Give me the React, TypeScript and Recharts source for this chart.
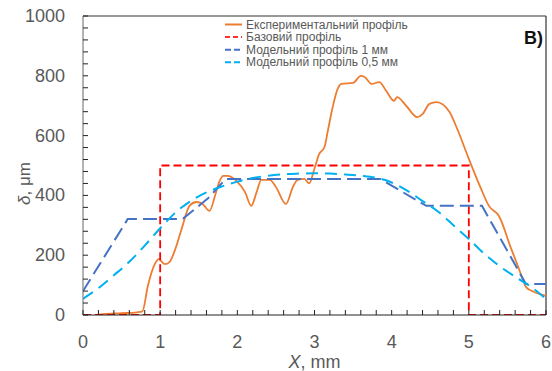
import React from 'react';
import {
  LineChart,
  Line,
  XAxis,
  YAxis,
  Legend,
  ReferenceLine,
} from 'recharts';

// Experimental profile, δ (µm) against X (mm)
const expX = [0.18, 0.26, 0.5, 0.7, 0.77, 0.84, 0.93, 0.98, 1.06, 1.12, 1.21, 1.29, 1.38, 1.47, 1.55, 1.64, 1.71, 1.77, 1.82, 1.87, 1.99, 2.1, 2.18, 2.25, 2.31, 2.42, 2.5, 2.63, 2.72, 2.78, 2.87, 2.93, 3.0, 3.06, 3.13, 3.17, 3.23, 3.3, 3.35, 3.5, 3.6, 3.65, 3.74, 3.84, 3.93, 4.03, 4.07, 4.19, 4.33, 4.4, 4.49, 4.58, 4.75, 4.85, 5.0, 5.16, 5.26, 5.39, 5.55, 5.65, 5.74, 5.82, 6.0];
const expY = [0, 3, 6, 9, 12, 97, 170, 187, 170, 177, 231, 298, 365, 378, 371, 348, 398, 448, 465, 465, 448, 411, 365, 411, 452, 452, 428, 371, 428, 452, 455, 440, 490, 538, 562, 612, 689, 756, 773, 776, 800, 796, 773, 779, 749, 716, 729, 699, 662, 672, 706, 712, 679, 622, 522, 421, 365, 331, 221, 154, 94, 80, 64];

// Base (rectangular) profile
const baseX = [0, 1, 1, 5, 5, 6];
const baseY = [0, 0, 500, 500, 0, 0];

// Model profile, 1 mm
const m1X = [0, 0.58, 1.29, 1.62, 1.85, 3.85, 4.45, 5.17, 5.74, 6];
const m1Y = [80, 321, 321, 390, 455, 455, 365, 365, 104, 104];

// Model profile, 0.5 mm
const m05X = [0, 0.2, 0.4, 0.6, 0.8, 1.0, 1.2, 1.4, 1.6, 1.8, 2.0, 2.2, 2.4, 2.6, 2.8, 3.0, 3.2, 3.4, 3.6, 3.8, 4.0, 4.2, 4.4, 4.6, 4.8, 5.0, 5.2, 5.4, 5.6, 5.8, 6.0];
const m05Y = [54, 90, 133, 178, 232, 290, 343, 382, 410, 430, 446, 458, 466, 471, 473, 474, 473, 470, 466, 459, 443, 416, 381, 346, 300, 254, 205, 163, 128, 95, 54];

const seriesNames = [
  'Експериментальний профіль',
  'Базовий профіль',
  'Модельний профіль 1 мм',
  'Модельний профіль 0,5 мм',
];

const xMajor = [0, 1, 2, 3, 4, 5, 6];
const yMajor = [0, 200, 400, 600, 800, 1000];

// minor ticks every 0.2 mm and every 40 µm
const xTicks = Array.from({ length: 31 }, (_, i) => Math.round(i * 2) / 10);
const yTicks = Array.from({ length: 26 }, (_, i) => i * 40);

const toPoints = (xs: number[], ys: number[]) => xs.map((x, i) => ({ x, y: ys[i] }));

const expData = toPoints(expX, expY);
const baseData = toPoints(baseX, baseY);
const m1Data = toPoints(m1X, m1Y);
const m05Data = toPoints(m05X, m05Y);

const FONT = '"Liberation Sans", Arial, sans-serif';
const GREY = '#595959';

const seriesStyle = [
  { stroke: '#ED7D31', dash: undefined },
  { stroke: '#FF3030', dash: '5 3' },
  { stroke: '#4472C4', dash: '6 3' },
  { stroke: '#00B0F0', dash: '6 3' },
];

const XTick = (props: any) => {
  const { x, y, payload } = props;
  const major = xMajor.includes(payload.value);
  return (
    <g>
      <line x1={x} x2={x} y1={y} y2={y - 5} stroke="#222" strokeWidth={1} />
      {major && (
        <text x={x} y={y + 33} textAnchor="middle" fill={GREY} fontSize={18} fontFamily={FONT}>
          {payload.value}
        </text>
      )}
    </g>
  );
};

const YTick = (props: any) => {
  const { x, y, payload } = props;
  const major = yMajor.includes(payload.value);
  return (
    <g>
      <line x1={x} x2={x + 5} y1={y} y2={y} stroke="#222" strokeWidth={1} />
      {major && (
        <text x={x - 18} y={y + 6} textAnchor="end" fill={GREY} fontSize={18} fontFamily={FONT}>
          {payload.value}
        </text>
      )}
    </g>
  );
};

const XLabel = (props: any) => {
  const { viewBox } = props;
  const cx = viewBox.x + viewBox.width / 2;
  return (
    <text x={cx} y={viewBox.y + 53} textAnchor="middle" fill={GREY} fontSize={18} fontFamily={FONT}>
      <tspan fontStyle="italic">X</tspan>, mm
    </text>
  );
};

const YLabel = (props: any) => {
  const { viewBox } = props;
  const cy = viewBox.y + viewBox.height / 2 + 18;
  const cx = 30;
  return (
    <text x={cx} y={cy} transform={`rotate(-90 ${cx} ${cy})`} textAnchor="middle" fill={GREY} fontSize={17} fontFamily={FONT}>
      <tspan fontStyle="italic">δ</tspan>, μm
    </text>
  );
};

// legend rows in series order, drawn by hand
const LegendBox = () => (
  <svg width={250} height={56}>
    {seriesNames.map((name, i) => {
      const yy = 6.5 + i * 12.6;
      return (
        <g key={name}>
          <line
            x1={0}
            x2={17}
            y1={yy}
            y2={yy}
            stroke={seriesStyle[i].stroke}
            strokeWidth={2}
            strokeDasharray={seriesStyle[i].dash}
          />
          <text x={21} y={yy + 4} fill={GREY} fontSize={12} fontFamily={FONT}>
            {name}
          </text>
        </g>
      );
    })}
  </svg>
);

export default function App() {
  return (
    <div style={{ position: 'absolute', left: 0, top: 0, width: 552, height: 371, background: '#fff' }}>
      <LineChart width={552} height={371} margin={{ top: 16, right: 6, bottom: 26, left: 23 }}>
        <XAxis
          dataKey="x"
          type="number"
          domain={[0, 6]}
          ticks={xTicks}
          interval={0}
          tickSize={0}
          tickMargin={0}
          tickLine={false}
          tick={<XTick />}
          axisLine={{ stroke: '#222', strokeWidth: 1 }}
          height={30}
          allowDataOverflow
          label={<XLabel />}
        />
        <YAxis
          dataKey="y"
          type="number"
          domain={[0, 1000]}
          ticks={yTicks}
          interval={0}
          tickSize={0}
          tickMargin={0}
          tickLine={false}
          tick={<YTick />}
          axisLine={{ stroke: '#7f7f7f', strokeWidth: 1.2 }}
          width={60}
          allowDataOverflow
          label={<YLabel />}
        />
        <ReferenceLine y={1000} stroke="#333" strokeWidth={1.2} />
        <ReferenceLine x={6} stroke="#333" strokeWidth={1.2} />
        <Legend
          layout="vertical"
          align="center"
          verticalAlign="middle"
          content={<LegendBox />}
          wrapperStyle={{ left: 225, top: 18, width: 250, height: 56 }}
        />
        <Line
          data={expData}
          dataKey="y"
          name={seriesNames[0]}
          type="monotone"
          stroke={seriesStyle[0].stroke}
          strokeWidth={1.8}
          dot={false}
          isAnimationActive={false}
        />
        <Line
          data={baseData}
          dataKey="y"
          name={seriesNames[1]}
          type="linear"
          stroke="#FF0000"
          strokeWidth={1.8}
          strokeDasharray="8 4"
          dot={false}
          isAnimationActive={false}
        />
        <Line
          data={m1Data}
          dataKey="y"
          name={seriesNames[2]}
          type="linear"
          stroke={seriesStyle[2].stroke}
          strokeWidth={2}
          strokeDasharray="14 6"
          dot={false}
          isAnimationActive={false}
        />
        <Line
          data={m05Data}
          dataKey="y"
          name={seriesNames[3]}
          type="monotone"
          stroke={seriesStyle[3].stroke}
          strokeWidth={2}
          strokeDasharray="12 7"
          dot={false}
          isAnimationActive={false}
        />
        <text x={524} y={44} fontSize={18} fontWeight="bold" fontFamily={FONT} fill="#111">
          В)
        </text>
      </LineChart>
    </div>
  );
}
